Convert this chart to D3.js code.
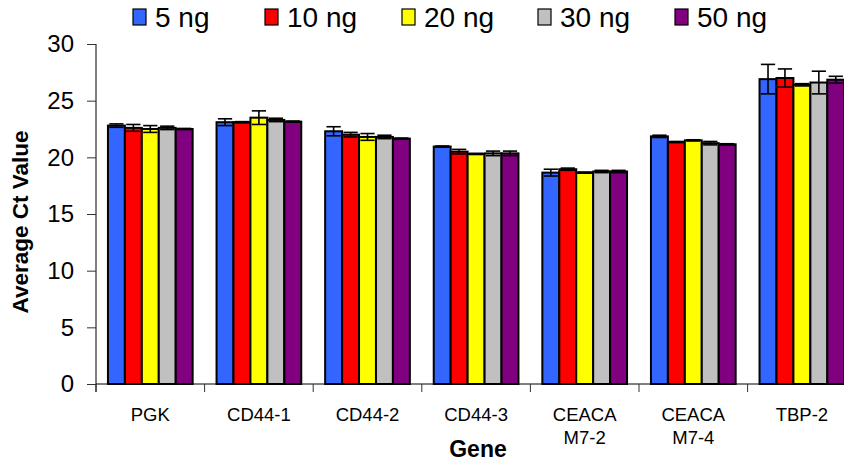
<!DOCTYPE html>
<html>
<head>
<meta charset="utf-8">
<script src="https://cdn.jsdelivr.net/npm/d3@7"></script>
<style>
  html, body { margin: 0; padding: 0; background: #fff; }
  svg { display: block; font-family: "Liberation Sans", Arial, sans-serif; }
</style>
</head>
<body>
<svg id="chart" width="844" height="462"></svg>
<script>
// ---- data ----
const genes = ["PGK", "CD44-1", "CD44-2", "CD44-3", "CEACA M7-2", "CEACA M7-4", "TBP-2"];
const seriesNames = ["5 ng", "10 ng", "20 ng", "30 ng", "50 ng"];
const seriesColors = ["#3366FF", "#FF0000", "#FFFF00", "#C0C0C0", "#800080"];
const values5ng  = [22.8, 23.1, 22.3, 20.95, 18.65, 21.85, 26.9];
const values10ng = [22.6, 23.1, 22.0, 20.5, 18.95, 21.35, 27.0];
const values20ng = [22.5, 23.5, 21.8, 20.3, 18.65, 21.5, 26.4];
const values30ng = [22.6, 23.3, 21.8, 20.35, 18.75, 21.25, 26.6];
const values50ng = [22.5, 23.15, 21.65, 20.35, 18.75, 21.15, 26.85];
const errors5ng  = [0.15, 0.3, 0.4, 0.05, 0.3, 0.1, 1.3];
const errors10ng = [0.3, 0.05, 0.2, 0.2, 0.1, 0.05, 0.8];
const errors20ng = [0.3, 0.6, 0.3, 0.05, 0.05, 0.05, 0.1];
const errors30ng = [0.15, 0.15, 0.15, 0.2, 0.1, 0.15, 1.0];
const errors50ng = [0.05, 0.05, 0.05, 0.2, 0.1, 0.05, 0.3];
const yTicks = [0, 5, 10, 15, 20, 25, 30];

const allValues = [values5ng, values10ng, values20ng, values30ng, values50ng];
const allErrors = [errors5ng, errors10ng, errors20ng, errors30ng, errors50ng];

// ---- layout ----
const svg = d3.select("#chart");
const x0 = d3.scaleBand().domain(genes).range([96, 96 + 108.6 * genes.length]).padding(0);
const x1 = d3.scaleBand().domain(seriesNames)
  .range([x0.bandwidth() * 0.11, x0.bandwidth() * 0.89]).padding(0);
const y = d3.scaleLinear().domain([0, 30]).range([384, 44]);

// bars
const groups = svg.append("g").selectAll("g").data(genes).join("g")
  .attr("transform", d => `translate(${x0(d)},0)`);

groups.each(function(g, gi) {
  const sel = d3.select(this);
  seriesNames.forEach((s, si) => {
    const v = allValues[si][gi];
    sel.append("rect")
      .attr("x", x1(s))
      .attr("y", y(v))
      .attr("width", x1.bandwidth())
      .attr("height", y(0) - y(v))
      .attr("fill", seriesColors[si])
      .attr("stroke", "#000")
      .attr("stroke-width", 2);
  });
  seriesNames.forEach((s, si) => {
    const v = allValues[si][gi], e = allErrors[si][gi];
    const cx = x1(s) + x1.bandwidth() / 2;
    const cw = x1.bandwidth() * 0.42;
    const eg = sel.append("g").attr("stroke", "#000").attr("stroke-width", 1.6);
    eg.append("line").attr("x1", cx).attr("x2", cx).attr("y1", y(v + e)).attr("y2", y(v - e));
    eg.append("line").attr("x1", cx - cw).attr("x2", cx + cw).attr("y1", y(v + e)).attr("y2", y(v + e));
    eg.append("line").attr("x1", cx - cw).attr("x2", cx + cw).attr("y1", y(v - e)).attr("y2", y(v - e));
  });
});

// y axis
const yAxis = d3.axisLeft(y).tickValues(yTicks).tickSize(9).tickPadding(13);
const ya = svg.append("g").attr("transform", "translate(96,0)").call(yAxis);
ya.select(".domain").attr("stroke", "#000").attr("d", "M0,44V392");
ya.selectAll(".tick line").attr("stroke", "#333");
ya.selectAll(".tick text").attr("font-size", 24).attr("fill", "#000")
  .attr("font-family", "Liberation Sans, Arial, sans-serif");

// x axis
const xa = svg.append("g").attr("transform", "translate(0,384)");
xa.append("line").attr("x1", 96).attr("x2", 844 + 20).attr("y1", 0).attr("y2", 0).attr("stroke", "#000");
xa.selectAll(".xt").data(genes.concat(["__end"])).join("line")
  .attr("x1", (d, i) => 96 + i * x0.step()).attr("x2", (d, i) => 96 + i * x0.step())
  .attr("y1", 0).attr("y2", 8).attr("stroke", "#333");
const labels = xa.selectAll(".xl").data(genes).join("text")
  .attr("text-anchor", "middle")
  .attr("font-size", 18.5)
  .attr("fill", "#000")
  .attr("transform", d => `translate(${x0(d) + x0.bandwidth() / 2},37)`);
labels.each(function(d) {
  const parts = d.split(" ");
  const t = d3.select(this);
  parts.forEach((p, i) => t.append("tspan").attr("x", 0).attr("dy", i === 0 ? 0 : 23).text(p));
});

// axis titles
svg.append("text").attr("x", 478).attr("y", 457).attr("text-anchor", "middle")
  .attr("font-weight", "bold").attr("font-size", 23).text("Gene");
svg.append("text").attr("transform", "translate(28,222) rotate(-90)")
  .attr("text-anchor", "middle").attr("font-weight", "bold").attr("font-size", 22.5)
  .text("Average Ct Value");

// legend
const legendX = [133, 265, 402, 538, 675];
const lg = svg.append("g");
seriesNames.forEach((s, i) => {
  lg.append("rect").attr("x", legendX[i]).attr("y", 9).attr("width", 13).attr("height", 16)
    .attr("fill", seriesColors[i]).attr("stroke", "#000").attr("stroke-width", 1.2);
  lg.append("text").attr("x", legendX[i] + 22).attr("y", 27).attr("font-size", 28)
    .attr("fill", "#000").text(s);
});
</script>
</body>
</html>
